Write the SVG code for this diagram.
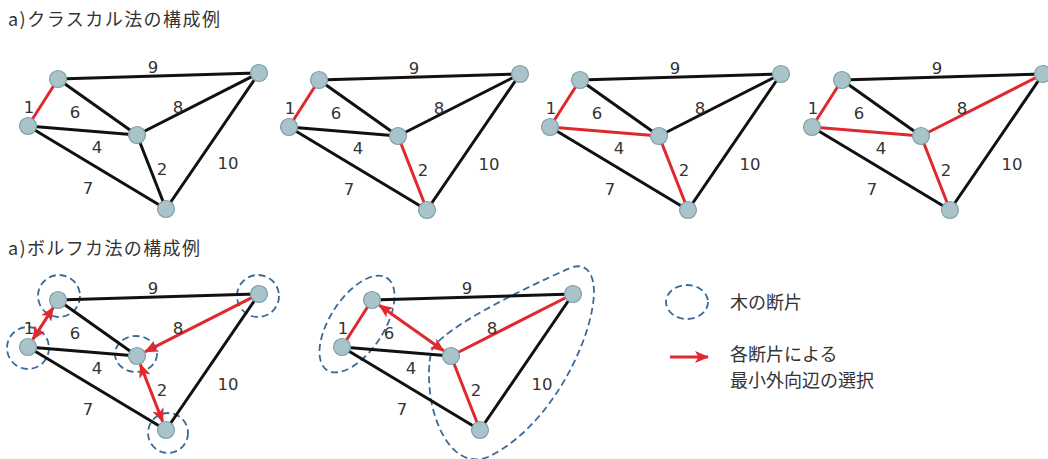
<svg xmlns="http://www.w3.org/2000/svg" width="1048" height="459" viewBox="0 0 1048 459">
<defs>
<style>
.e{stroke:#111;stroke-width:3;fill:none;stroke-linecap:round}
.r{stroke:#e0282d;stroke-width:3;fill:none;stroke-linecap:round}
.ra{stroke:#e0282d;stroke-width:3;fill:none;stroke-linecap:butt}
.n{fill:#a9c3cb;stroke:#7f9ea8;stroke-width:1.2}
.lb{font-family:"DejaVu Sans","Liberation Sans",sans-serif;font-size:16.5px;fill:#333;text-anchor:middle}
.t{font-family:"Noto Sans CJK JP","Noto Sans",sans-serif;font-size:18px;fill:#333}
.f{fill:none;stroke:#3b6a9a;stroke-width:1.8;stroke-dasharray:7 4}
</style>
<marker id="ah" viewBox="0 0 14 12" refX="13" refY="6" markerWidth="14" markerHeight="12" markerUnits="userSpaceOnUse" orient="auto-start-reverse">
<path d="M0,0 L14,6 L0,12 L3.5,6 z" fill="#e0282d"/>
</marker>
</defs>
<rect width="1048" height="459" fill="#fff"/>

<text class="t" x="8" y="26" textLength="212" lengthAdjust="spacing">a)クラスカル法の構成例</text>
<text class="t" x="8" y="255" textLength="192" lengthAdjust="spacing">a)ボルフカ法の構成例</text>

<!-- Kruskal step 1 -->
<g id="k1" transform="translate(0,0)">
<g id="k1-edges">
<line class="e" x1="58" y1="79" x2="259" y2="73"/>
<line class="e" x1="58" y1="79" x2="137" y2="135"/>
<line class="e" x1="137" y1="135" x2="259" y2="73"/>
<line class="e" x1="28" y1="126" x2="137" y2="135"/>
<line class="e" x1="137" y1="135" x2="166" y2="209"/>
<line class="e" x1="259" y1="73" x2="166" y2="209"/>
<line class="e" x1="28" y1="126" x2="166" y2="209"/>
<line class="r" x1="58" y1="79" x2="28" y2="126"/>
</g>
<g id="k1-labels">
<text class="lb" x="153" y="73">9</text><text class="lb" x="29" y="113">1</text><text class="lb" x="75" y="118">6</text><text class="lb" x="178" y="113">8</text><text class="lb" x="97" y="153">4</text><text class="lb" x="162" y="175">2</text><text class="lb" x="228" y="169">10</text><text class="lb" x="88" y="194">7</text>
</g>
<g id="k1-nA"><circle class="n" cx="58" cy="79" r="8.5"/></g>
<g id="k1-nB"><circle class="n" cx="28" cy="126" r="8.5"/></g>
<g id="k1-nC"><circle class="n" cx="137" cy="135" r="8.5"/></g>
<g id="k1-nD"><circle class="n" cx="259" cy="73" r="8.5"/></g>
<g id="k1-nE"><circle class="n" cx="166" cy="209" r="8.5"/></g>
</g>

<!-- Kruskal step 2 -->
<g id="k2" transform="translate(261,1)">
<g id="k2-edges">
<line class="e" x1="58" y1="79" x2="259" y2="73"/>
<line class="e" x1="58" y1="79" x2="137" y2="135"/>
<line class="e" x1="137" y1="135" x2="259" y2="73"/>
<line class="e" x1="28" y1="126" x2="137" y2="135"/>
<line class="e" x1="259" y1="73" x2="166" y2="209"/>
<line class="e" x1="28" y1="126" x2="166" y2="209"/>
<line class="r" x1="58" y1="79" x2="28" y2="126"/>
<line class="r" x1="137" y1="135" x2="166" y2="209"/>
</g>
<g id="k2-labels">
<text class="lb" x="153" y="73">9</text><text class="lb" x="29" y="113">1</text><text class="lb" x="75" y="118">6</text><text class="lb" x="178" y="113">8</text><text class="lb" x="97" y="153">4</text><text class="lb" x="162" y="175">2</text><text class="lb" x="228" y="169">10</text><text class="lb" x="88" y="194">7</text>
</g>
<g id="k2-nA"><circle class="n" cx="58" cy="79" r="8.5"/></g>
<g id="k2-nB"><circle class="n" cx="28" cy="126" r="8.5"/></g>
<g id="k2-nC"><circle class="n" cx="137" cy="135" r="8.5"/></g>
<g id="k2-nD"><circle class="n" cx="259" cy="73" r="8.5"/></g>
<g id="k2-nE"><circle class="n" cx="166" cy="209" r="8.5"/></g>
</g>

<!-- Kruskal step 3 -->
<g id="k3" transform="translate(522,1)">
<g id="k3-edges">
<line class="e" x1="58" y1="79" x2="259" y2="73"/>
<line class="e" x1="58" y1="79" x2="137" y2="135"/>
<line class="e" x1="137" y1="135" x2="259" y2="73"/>
<line class="e" x1="259" y1="73" x2="166" y2="209"/>
<line class="e" x1="28" y1="126" x2="166" y2="209"/>
<line class="r" x1="58" y1="79" x2="28" y2="126"/>
<line class="r" x1="28" y1="126" x2="137" y2="135"/>
<line class="r" x1="137" y1="135" x2="166" y2="209"/>
</g>
<g id="k3-labels">
<text class="lb" x="153" y="73">9</text><text class="lb" x="29" y="113">1</text><text class="lb" x="75" y="118">6</text><text class="lb" x="178" y="113">8</text><text class="lb" x="97" y="153">4</text><text class="lb" x="162" y="175">2</text><text class="lb" x="228" y="169">10</text><text class="lb" x="88" y="194">7</text>
</g>
<g id="k3-nA"><circle class="n" cx="58" cy="79" r="8.5"/></g>
<g id="k3-nB"><circle class="n" cx="28" cy="126" r="8.5"/></g>
<g id="k3-nC"><circle class="n" cx="137" cy="135" r="8.5"/></g>
<g id="k3-nD"><circle class="n" cx="259" cy="73" r="8.5"/></g>
<g id="k3-nE"><circle class="n" cx="166" cy="209" r="8.5"/></g>
</g>

<!-- Kruskal step 4 -->
<g id="k4" transform="translate(784,1)">
<g id="k4-edges">
<line class="e" x1="58" y1="79" x2="259" y2="73"/>
<line class="e" x1="58" y1="79" x2="137" y2="135"/>
<line class="e" x1="259" y1="73" x2="166" y2="209"/>
<line class="e" x1="28" y1="126" x2="166" y2="209"/>
<line class="r" x1="58" y1="79" x2="28" y2="126"/>
<line class="r" x1="28" y1="126" x2="137" y2="135"/>
<line class="r" x1="137" y1="135" x2="166" y2="209"/>
<line class="r" x1="137" y1="135" x2="259" y2="73"/>
</g>
<g id="k4-labels">
<text class="lb" x="153" y="73">9</text><text class="lb" x="29" y="113">1</text><text class="lb" x="75" y="118">6</text><text class="lb" x="178" y="113">8</text><text class="lb" x="97" y="153">4</text><text class="lb" x="162" y="175">2</text><text class="lb" x="228" y="169">10</text><text class="lb" x="88" y="194">7</text>
</g>
<g id="k4-nA"><circle class="n" cx="58" cy="79" r="8.5"/></g>
<g id="k4-nB"><circle class="n" cx="28" cy="126" r="8.5"/></g>
<g id="k4-nC"><circle class="n" cx="137" cy="135" r="8.5"/></g>
<g id="k4-nD"><circle class="n" cx="259" cy="73" r="8.5"/></g>
<g id="k4-nE"><circle class="n" cx="166" cy="209" r="8.5"/></g>
</g>

<!-- Boruvka step 1 -->
<g id="b1" transform="translate(0,221)">
<g id="b1-fragments">
<circle class="f" cx="59" cy="75" r="21"/>
<circle class="f" cx="28" cy="127" r="21"/>
<ellipse class="f" cx="136" cy="133" rx="21" ry="18"/>
<circle class="f" cx="258" cy="75" r="21"/>
<circle class="f" cx="168" cy="212" r="20"/>
</g>
<g id="b1-edges">
<line class="e" x1="58" y1="79" x2="259" y2="73"/>
<line class="e" x1="58" y1="79" x2="137" y2="135"/>
<line class="e" x1="28" y1="126" x2="137" y2="135"/>
<line class="e" x1="259" y1="73" x2="166" y2="209"/>
<line class="e" x1="28" y1="126" x2="166" y2="209"/>
<line class="ra" x1="53.2" y1="86.6" x2="32.8" y2="118.4" marker-start="url(#ah)" marker-end="url(#ah)"/>
<line class="ra" x1="140.3" y1="143.4" x2="162.7" y2="200.6" marker-start="url(#ah)" marker-end="url(#ah)"/>
<line class="ra" x1="259" y1="73" x2="145" y2="130.9" marker-end="url(#ah)"/>
</g>
<g id="b1-labels">
<text class="lb" x="153" y="73">9</text><text class="lb" x="29" y="113">1</text><text class="lb" x="75" y="118">6</text><text class="lb" x="178" y="113">8</text><text class="lb" x="97" y="153">4</text><text class="lb" x="162" y="175">2</text><text class="lb" x="228" y="169">10</text><text class="lb" x="88" y="194">7</text>
</g>
<g id="b1-nA"><circle class="n" cx="58" cy="79" r="8.5"/></g>
<g id="b1-nB"><circle class="n" cx="28" cy="126" r="8.5"/></g>
<g id="b1-nC"><circle class="n" cx="137" cy="135" r="8.5"/></g>
<g id="b1-nD"><circle class="n" cx="259" cy="73" r="8.5"/></g>
<g id="b1-nE"><circle class="n" cx="166" cy="209" r="8.5"/></g>
</g>

<!-- Boruvka step 2 -->
<g id="b2-fragments">
<ellipse class="f" cx="357" cy="324" rx="55" ry="27" transform="rotate(-57 357 324)"/>
<path class="f" d="M432,350 C440,330 520,290 570,268 C590,260 598,280 592,310 C584,355 545,430 488,457 C460,468 440,440 432,405 C428,385 428,362 432,350 Z"/>
</g>
<g id="b2" transform="translate(314,221)">
<g id="b2-edges">
<line class="e" x1="58" y1="79" x2="259" y2="73"/>
<line class="e" x1="28" y1="126" x2="137" y2="135"/>
<line class="e" x1="259" y1="73" x2="166" y2="209"/>
<line class="e" x1="28" y1="126" x2="166" y2="209"/>
<line class="r" x1="58" y1="79" x2="28" y2="126"/>
<line class="r" x1="137" y1="135" x2="259" y2="73"/>
<line class="r" x1="137" y1="135" x2="166" y2="209"/>
<line class="ra" x1="65.3" y1="84.2" x2="129.7" y2="129.8" marker-start="url(#ah)" marker-end="url(#ah)"/>
</g>
<g id="b2-labels">
<text class="lb" x="153" y="73">9</text><text class="lb" x="29" y="113">1</text><text class="lb" x="75" y="118">6</text><text class="lb" x="178" y="113">8</text><text class="lb" x="97" y="153">4</text><text class="lb" x="162" y="175">2</text><text class="lb" x="228" y="169">10</text><text class="lb" x="88" y="194">7</text>
</g>
<g id="b2-nA"><circle class="n" cx="58" cy="79" r="8.5"/></g>
<g id="b2-nB"><circle class="n" cx="28" cy="126" r="8.5"/></g>
<g id="b2-nC"><circle class="n" cx="137" cy="135" r="8.5"/></g>
<g id="b2-nD"><circle class="n" cx="259" cy="73" r="8.5"/></g>
<g id="b2-nE"><circle class="n" cx="166" cy="209" r="8.5"/></g>
</g>

<!-- Legend -->
<g id="legend">
<ellipse class="f" cx="687" cy="302" rx="21" ry="17"/>
<text class="t" x="730" y="309">木の断片</text>
<line class="ra" x1="670" y1="357" x2="708" y2="357" marker-end="url(#ah)"/>
<text class="t" x="730" y="361">各断片による</text>
<text class="t" x="730" y="387">最小外向辺の選択</text>
</g>
</svg>
